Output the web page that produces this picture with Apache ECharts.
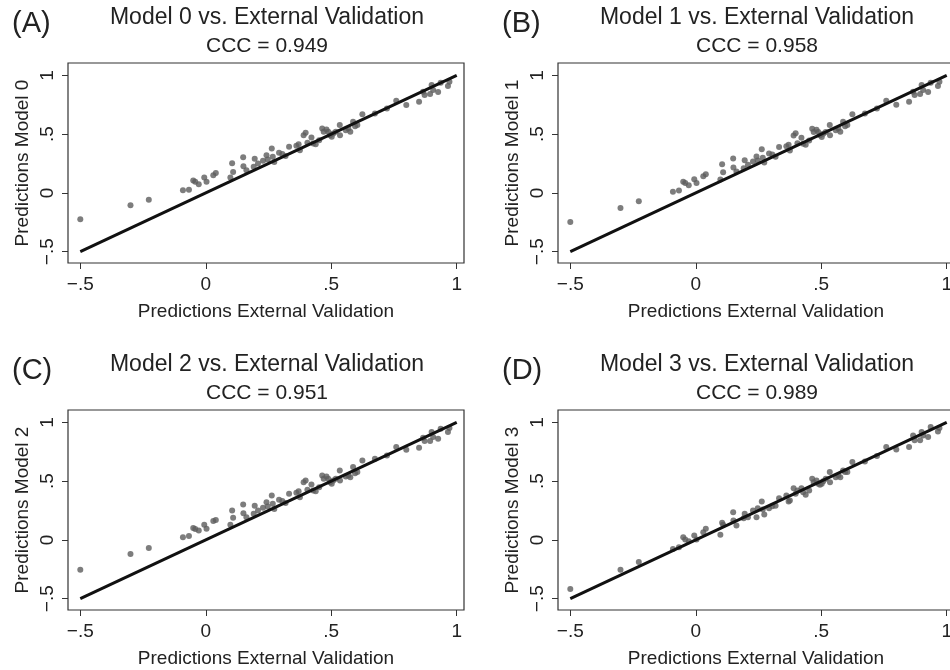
<!DOCTYPE html>
<html>
<head>
<meta charset="utf-8">
<script src="https://cdn.jsdelivr.net/npm/echarts@6/dist/echarts.min.js"></script>
<style>
  html, body { margin: 0; padding: 0; background: #fff; }
  #chart { width: 950px; height: 670px; }
</style>
</head>
<body>
<div id="chart"></div>
<script>
// external validation predictions (shared x for every panel)
const extVal = [
  -0.50, -0.30, -0.227, -0.091, -0.067, -0.050, -0.042, -0.028, -0.006, 0.003,
  0.030, 0.040, 0.098, 0.105, 0.109, 0.149, 0.150, 0.162, 0.195, 0.191,
  0.208, 0.228, 0.242, 0.247, 0.263, 0.267, 0.273, 0.292, 0.305, 0.318,
  0.332, 0.361, 0.370, 0.375, 0.390, 0.398, 0.405, 0.421, 0.428, 0.438,
  0.452, 0.464, 0.470, 0.481, 0.488, 0.495, 0.502, 0.508, 0.518, 0.534,
  0.535, 0.558, 0.568, 0.576, 0.587, 0.595, 0.604, 0.624, 0.674, 0.722,
  0.759, 0.799, 0.850, 0.866, 0.872, 0.894, 0.900, 0.906, 0.926, 0.936,
  0.965, 0.971
]
// model predictions
const model0 = [
  -0.224, -0.105, -0.057, 0.023, 0.028, 0.105, 0.095, 0.074, 0.131, 0.094,
  0.151, 0.170, 0.131, 0.253, 0.179, 0.304, 0.227, 0.193, 0.290, 0.222,
  0.250, 0.273, 0.321, 0.284, 0.378, 0.307, 0.264, 0.341, 0.330, 0.313,
  0.392, 0.401, 0.415, 0.364, 0.491, 0.511, 0.426, 0.472, 0.420, 0.415,
  0.449, 0.548, 0.520, 0.540, 0.520, 0.491, 0.477, 0.506, 0.520, 0.577,
  0.491, 0.534, 0.548, 0.520, 0.605, 0.568, 0.577, 0.670, 0.676, 0.719,
  0.784, 0.747, 0.776, 0.861, 0.832, 0.841, 0.918, 0.875, 0.858, 0.938,
  0.909, 0.946
]
const model1 = [
  -0.247, -0.128, -0.071, 0.009, 0.020, 0.094, 0.085, 0.065, 0.116, 0.085,
  0.142, 0.159, 0.114, 0.244, 0.176, 0.293, 0.216, 0.182, 0.278, 0.210,
  0.240, 0.268, 0.310, 0.276, 0.372, 0.300, 0.258, 0.336, 0.326, 0.308,
  0.390, 0.398, 0.410, 0.360, 0.488, 0.508, 0.422, 0.470, 0.418, 0.410,
  0.446, 0.546, 0.518, 0.538, 0.518, 0.490, 0.476, 0.504, 0.518, 0.577,
  0.490, 0.534, 0.548, 0.520, 0.605, 0.568, 0.577, 0.670, 0.676, 0.719,
  0.784, 0.750, 0.776, 0.861, 0.832, 0.841, 0.918, 0.875, 0.858, 0.938,
  0.909, 0.946
]
const model2 = [
  -0.253, -0.119, -0.068, 0.023, 0.034, 0.102, 0.092, 0.080, 0.128, 0.094,
  0.162, 0.170, 0.128, 0.250, 0.188, 0.301, 0.227, 0.193, 0.290, 0.222,
  0.250, 0.273, 0.321, 0.284, 0.378, 0.307, 0.264, 0.341, 0.330, 0.313,
  0.392, 0.401, 0.415, 0.364, 0.491, 0.506, 0.426, 0.472, 0.420, 0.415,
  0.449, 0.548, 0.520, 0.540, 0.520, 0.491, 0.477, 0.506, 0.520, 0.591,
  0.506, 0.540, 0.548, 0.534, 0.620, 0.568, 0.577, 0.676, 0.690, 0.719,
  0.790, 0.767, 0.784, 0.869, 0.841, 0.841, 0.918, 0.875, 0.861, 0.946,
  0.918, 0.952
]
const model3 = [
  -0.418, -0.253, -0.188, -0.077, -0.063, 0.023, 0.003, -0.011, 0.037, 0.003,
  0.065, 0.094, 0.043, 0.145, 0.130, 0.236, 0.165, 0.122, 0.222, 0.185,
  0.193, 0.250, 0.193, 0.270, 0.327, 0.259, 0.216, 0.270, 0.287, 0.290,
  0.355, 0.378, 0.327, 0.335, 0.440, 0.392, 0.420, 0.440, 0.406, 0.384,
  0.420, 0.520, 0.491, 0.506, 0.477, 0.470, 0.477, 0.500, 0.520, 0.577,
  0.491, 0.534, 0.548, 0.534, 0.591, 0.577, 0.577, 0.662, 0.668, 0.713,
  0.790, 0.770, 0.790, 0.889, 0.847, 0.847, 0.918, 0.889, 0.875, 0.960,
  0.923, 0.952
]
// reference line
const lineX = [-0.5, 1]
const lineY = [-0.5, 1]
// ticks
const tickVals = [-0.5, 0, 0.5, 1]
const tickLabels = ['\u2212.5', '0', '.5', '1']

const panelTags = ['(A)', '(B)', '(C)', '(D)']
const panelTitles = [
  'Model 0 vs. External Validation',
  'Model 1 vs. External Validation',
  'Model 2 vs. External Validation',
  'Model 3 vs. External Validation'
]
const cccText = ['CCC = 0.949', 'CCC = 0.958', 'CCC = 0.951', 'CCC = 0.989']
const yNames = ['Predictions Model 0', 'Predictions Model 1', 'Predictions Model 2', 'Predictions Model 3']
const models = [model0, model1, model2, model3]

const font = '"Liberation Sans", Arial, Helvetica, sans-serif'
const ink = '#222'
// grid boxes (left, top)
const boxes = [[68, 63], [558, 63], [68, 410], [558, 410]]
const boxW = 396
const boxH = 200

function fmt(v) {
  const i = tickVals.findIndex(t => Math.abs(t - v) < 1e-6)
  return i >= 0 ? tickLabels[i] : ''
}

const grid = []
const xAxis = []
const yAxis = []
const series = []
const graphic = []

boxes.forEach((b, i) => {
  grid.push({
    left: b[0], top: b[1], width: boxW, height: boxH,
    outerBoundsMode: 'none', containLabel: false,
    show: true, borderColor: '#333', borderWidth: 1.2, backgroundColor: '#fff'
  })
  xAxis.push({
    gridIndex: i, type: 'value', min: -0.549, max: 1.029,
    axisLine: { show: false, onZero: false },
    splitLine: { show: false },
    axisTick: { show: true, length: 6, lineStyle: { color: '#333', width: 1 }, customValues: tickVals },
    axisLabel: { customValues: tickVals, formatter: fmt, color: ink, fontSize: 19, fontFamily: font, margin: 12 },
    name: 'Predictions External Validation',
    nameLocation: 'middle', nameGap: 39,
    nameTextStyle: { color: ink, fontSize: 19, fontFamily: font }
  })
  yAxis.push({
    gridIndex: i, type: 'value', min: -0.596, max: 1.105,
    axisLine: { show: false, onZero: false },
    splitLine: { show: false },
    axisTick: { show: true, length: 6, lineStyle: { color: '#333', width: 1 }, customValues: tickVals },
    axisLabel: { customValues: tickVals, formatter: fmt, rotate: 90, color: ink, fontSize: 19, fontFamily: font, margin: 11 },
    name: yNames[i],
    nameLocation: 'middle', nameGap: 36,
    nameTextStyle: { color: ink, fontSize: 19, fontFamily: font }
  })
  series.push({
    type: 'scatter', xAxisIndex: i, yAxisIndex: i,
    symbolSize: 6,
    itemStyle: { color: '#5c5c5c' },
    data: extVal.map((x, k) => [x, models[i][k]]),
    z: 2
  })
  series.push({
    type: 'line', xAxisIndex: i, yAxisIndex: i,
    symbol: 'none',
    lineStyle: { color: '#111', width: 3 },
    data: lineX.map((x, k) => [x, lineY[k]]),
    z: 3
  })
  const cx = b[0] + 199
  graphic.push({
    type: 'text', left: b[0] - 56, top: b[1] - 54,
    style: { text: panelTags[i], font: '29px ' + font, fill: ink }
  })
  graphic.push({
    type: 'text', x: cx, y: b[1] - 45.5,
    style: { text: panelTitles[i], font: '23px ' + font, fill: ink, align: 'center', verticalAlign: 'middle' }
  })
  graphic.push({
    type: 'text', x: cx, y: b[1] - 16.5,
    style: { text: cccText[i], font: '21px ' + font, fill: ink, align: 'center', verticalAlign: 'middle' }
  })
})

const chart = echarts.init(document.getElementById('chart'), null, { renderer: 'canvas' })
chart.setOption({
  animation: false,
  backgroundColor: '#fff',
  textStyle: { fontFamily: font },
  grid: grid,
  xAxis: xAxis,
  yAxis: yAxis,
  series: series,
  graphic: graphic
})
</script>
</body>
</html>
